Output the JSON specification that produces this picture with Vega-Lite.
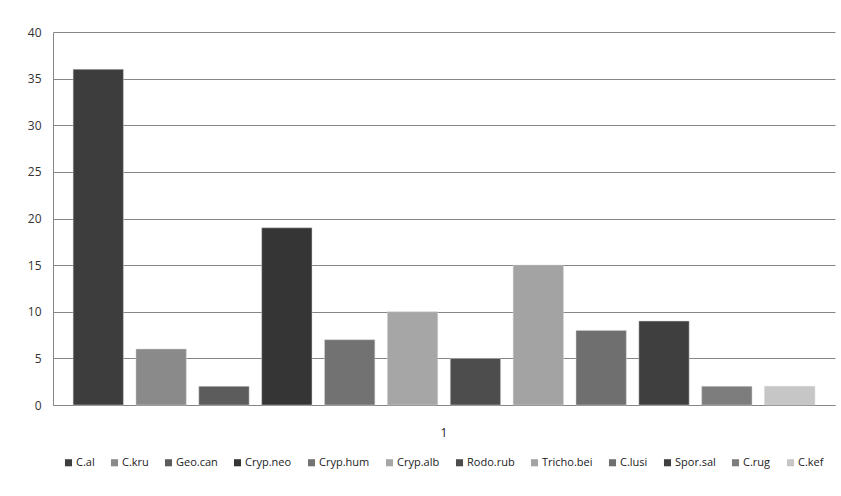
{
  "$schema": "https://vega.github.io/schema/vega-lite/v6.json",
  "width": 782,
  "height": 373,
  "padding": {"left": 53, "top": 32, "right": 6, "bottom": 91},
  "autosize": {"type": "none"},
  "background": "white",
  "config": {
    "view": {"stroke": null},
    "font": "Open Sans"
  },
  "data": {
    "values": [
      {"cat": "1", "series": "C.al", "value": 36},
      {"cat": "1", "series": "C.kru", "value": 6},
      {"cat": "1", "series": "Geo.can", "value": 2},
      {"cat": "1", "series": "Cryp.neo", "value": 19},
      {"cat": "1", "series": "Cryp.hum", "value": 7},
      {"cat": "1", "series": "Cryp.alb", "value": 10},
      {"cat": "1", "series": "Rodo.rub", "value": 5},
      {"cat": "1", "series": "Tricho.bei", "value": 15},
      {"cat": "1", "series": "C.lusi", "value": 8},
      {"cat": "1", "series": "Spor.sal", "value": 9},
      {"cat": "1", "series": "C.rug", "value": 2},
      {"cat": "1", "series": "C.kef", "value": 2}
    ]
  },
  "mark": {"type": "bar", "stroke": "#d0d0d0", "strokeWidth": 0.5},
  "encoding": {
    "x": {
      "field": "cat",
      "type": "nominal",
      "scale": {"paddingInner": 0, "paddingOuter": 0},
      "axis": {
        "title": null,
        "labelAngle": 0,
        "ticks": false,
        "labelPadding": 22,
        "labelFontSize": 12,
        "labelColor": "#222222",
        "domainColor": "#868686",
        "domainWidth": 1
      }
    },
    "xOffset": {
      "field": "series",
      "type": "nominal",
      "sort": null,
      "scale": {"paddingInner": 0.2, "paddingOuter": 0.32}
    },
    "y": {
      "field": "value",
      "type": "quantitative",
      "scale": {"domain": [0, 40], "nice": false},
      "axis": {
        "title": null,
        "values": [0, 5, 10, 15, 20, 25, 30, 35, 40],
        "ticks": false,
        "labelPadding": 12,
        "labelFontSize": 12,
        "labelColor": "#333333",
        "gridColor": "#868686",
        "gridWidth": 1,
        "domainColor": "#868686",
        "domainWidth": 1
      }
    },
    "color": {
      "field": "series",
      "type": "nominal",
      "sort": null,
      "scale": {
        "domain": ["C.al", "C.kru", "Geo.can", "Cryp.neo", "Cryp.hum", "Cryp.alb", "Rodo.rub", "Tricho.bei", "C.lusi", "Spor.sal", "C.rug", "C.kef"],
        "range": ["#3d3d3d", "#8a8a8a", "#5c5c5c", "#353535", "#727272", "#a6a6a6", "#4d4d4d", "#a3a3a3", "#6f6f6f", "#3f3f3f", "#7d7d7d", "#c6c6c6"]
      },
      "legend": {
        "title": null,
        "orient": "none",
        "direction": "horizontal",
        "legendX": 10,
        "legendY": 425,
        "columns": 12,
        "symbolType": "square",
        "symbolSize": 50,
        "symbolStrokeWidth": 0,
        "labelFontSize": 11,
        "labelColor": "#222222",
        "labelOffset": 2,
        "columnPadding": 14
      }
    }
  }
}
